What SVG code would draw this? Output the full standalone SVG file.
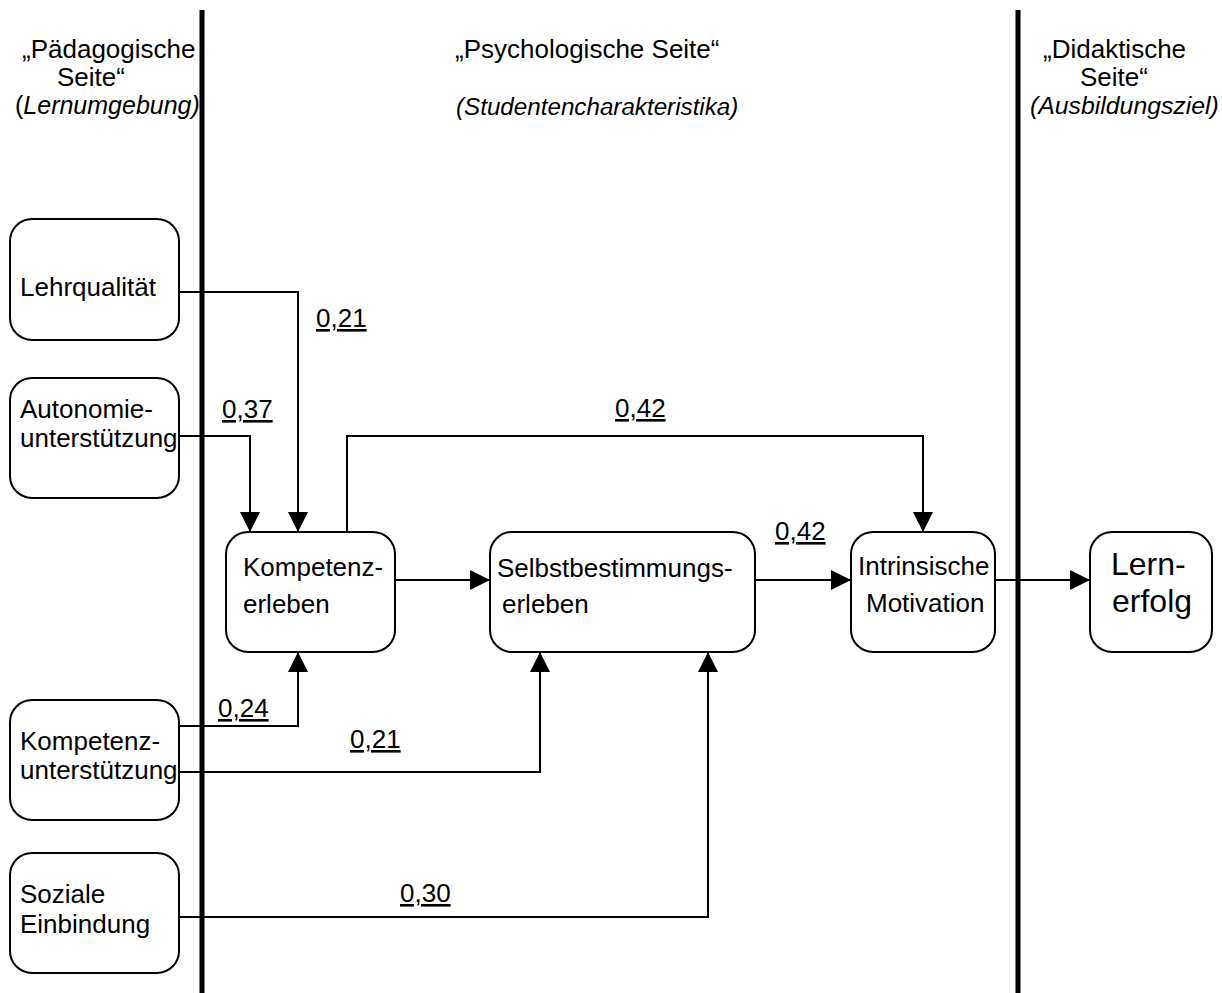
<svg xmlns="http://www.w3.org/2000/svg" width="1222" height="993" viewBox="0 0 1222 993">
<defs>
<style>
text{font-family:"Liberation Sans",Arial,sans-serif;font-size:26px;fill:#000}
.it{font-style:italic}
.lbl{text-decoration:underline}
.big{font-size:32px}
.box{fill:#fff;stroke:#000;stroke-width:2}
.ln{fill:none;stroke:#000;stroke-width:2}
.bar{stroke:#000;stroke-width:5}
</style>
<marker id="ah" markerUnits="userSpaceOnUse" markerWidth="20" markerHeight="20" viewBox="0 0 20 20" refX="20" refY="10" orient="auto">
<path d="M0,0 L20,10 L0,20 Z" fill="#000"/>
</marker>
</defs>
<rect width="1222" height="993" fill="#fff"/>

<g id="headers">
<text x="22" y="58">„Pädagogische</text>
<text x="57" y="86">Seite“</text>
<text x="15" y="114" style="font-size:25px">(<tspan class="it">Lernumgebung)</tspan></text>
<text x="455" y="58">„Psychologische Seite“</text>
<text x="456" y="115" class="it" style="font-size:24.2px">(Studentencharakteristika)</text>
<text x="1043" y="58">„Didaktische</text>
<text x="1080" y="86">Seite“</text>
<text x="1030" y="114" class="it" style="font-size:24.8px">(Ausbildungsziel)</text>
</g>

<g id="dividers">
<line class="bar" x1="202" y1="10" x2="202" y2="993"/>
<line class="bar" x1="1018" y1="10" x2="1018" y2="993"/>
</g>

<g id="connectors">
<polyline class="ln" points="179,292 298,292 298,532" marker-end="url(#ah)"/>
<polyline class="ln" points="179,436 250,436 250,532" marker-end="url(#ah)"/>
<polyline class="ln" points="347,532 347,436 923,436 923,532" marker-end="url(#ah)"/>
<line class="ln" x1="395" y1="580" x2="490" y2="580" marker-end="url(#ah)"/>
<line class="ln" x1="755" y1="580" x2="851" y2="580" marker-end="url(#ah)"/>
<line class="ln" x1="995" y1="580" x2="1090" y2="580" marker-end="url(#ah)"/>
<polyline class="ln" points="179,726 298,726 298,652" marker-end="url(#ah)"/>
<polyline class="ln" points="179,772 540,772 540,652" marker-end="url(#ah)"/>
<polyline class="ln" points="179,917 708,917 708,652" marker-end="url(#ah)"/>
<text class="lbl" x="316" y="327">0,21</text>
<text class="lbl" x="222" y="418">0,37</text>
<text class="lbl" x="615" y="417">0,42</text>
<text class="lbl" x="775" y="540">0,42</text>
<text class="lbl" x="218" y="717">0,24</text>
<text class="lbl" x="350" y="748">0,21</text>
<text class="lbl" x="400" y="902">0,30</text>
</g>

<g id="lehrqualitaet">
<rect class="box" x="10" y="219" width="169" height="121" rx="22"/>
<text x="20" y="296">Lehrqualität</text>
</g>
<g id="autonomieunterstuetzung">
<rect class="box" x="10" y="378" width="169" height="120" rx="22"/>
<text x="20" y="418">Autonomie-</text>
<text x="20" y="447">unterstützung</text>
</g>
<g id="kompetenzunterstuetzung">
<rect class="box" x="10" y="700" width="169" height="120" rx="22"/>
<text x="20" y="750">Kompetenz-</text>
<text x="20" y="779">unterstützung</text>
</g>
<g id="soziale-einbindung">
<rect class="box" x="10" y="853" width="169" height="120" rx="22"/>
<text x="20" y="903">Soziale</text>
<text x="20" y="933">Einbindung</text>
</g>
<g id="kompetenzerleben">
<rect class="box" x="226" y="532" width="169" height="120" rx="22"/>
<text x="243" y="576">Kompetenz-</text>
<text x="243" y="613">erleben</text>
</g>
<g id="selbstbestimmungserleben">
<rect class="box" x="490" y="532" width="265" height="120" rx="22"/>
<text x="497" y="577">Selbstbestimmungs-</text>
<text x="502" y="613">erleben</text>
</g>
<g id="intrinsische-motivation">
<rect class="box" x="851" y="532" width="144" height="120" rx="22"/>
<text x="858" y="575">Intrinsische</text>
<text x="866" y="612">Motivation</text>
</g>
<g id="lernerfolg">
<rect class="box" x="1090" y="532" width="122" height="120" rx="22"/>
<text class="big" x="1111" y="575">Lern-</text>
<text class="big" x="1112" y="612">erfolg</text>
</g>
</svg>
